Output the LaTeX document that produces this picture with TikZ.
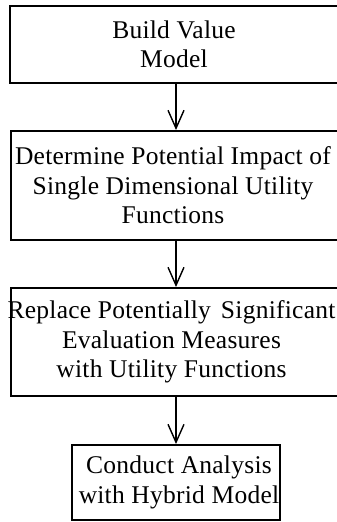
\documentclass[tikz,border=0pt]{standalone}
\usepackage{fontspec}
\setmainfont{Liberation Serif}[LetterSpace=1]
\usetikzlibrary{arrows.meta}
\begin{document}
\begin{tikzpicture}[x=1pt,y=-1pt,
  box/.style={draw=black, line width=2pt, rectangle, inner sep=0pt},
  txt/.style={align=center, inner sep=0pt, font=\fontsize{25.5}{29.5}\selectfont},
  conn/.style={line width=1.4pt, -{Straight Barb[length=18pt,width=16pt,line width=1.4pt]}}]
\useasboundingbox (0,0) rectangle (337,522);
\node[box, minimum width=346pt, minimum height=77pt] (b1) at (183,44.5) {};
\node[box, minimum width=344pt, minimum height=109pt] (b2) at (183,185.5) {};
\node[box, minimum width=344pt, minimum height=108pt] (b3) at (183,342) {};
\node[box, minimum width=208pt, minimum height=75pt] (b4) at (176,482.5) {};
\node[txt] (t1) at (174,44.5) {Build Value\\Model};
\node[txt] (t2) at (173,185.5) {Determine Potential Impact of\\Single Dimensional Utility\\Functions};
\node[txt] (t3) at (171.5,342) {Replace Potentially\hspace{10pt}Significant\\Evaluation Measures\\with Utility Functions};
\node[txt] (t4) at (179,482.5) {Conduct Analysis\\with Hybrid Model};
\coordinate (a1s) at (b1.south -| b4.north);
\coordinate (a1e) at (b2.north -| b4.north);
\coordinate (a2s) at (b2.south -| b4.north);
\coordinate (a2e) at (b3.north -| b4.north);
\coordinate (a3s) at (b3.south -| b4.north);
\draw[conn] (a1s) -- (a1e);
\draw[conn] (a2s) -- (a2e);
\draw[conn] (a3s) -- (b4.north);
\end{tikzpicture}
\end{document}
